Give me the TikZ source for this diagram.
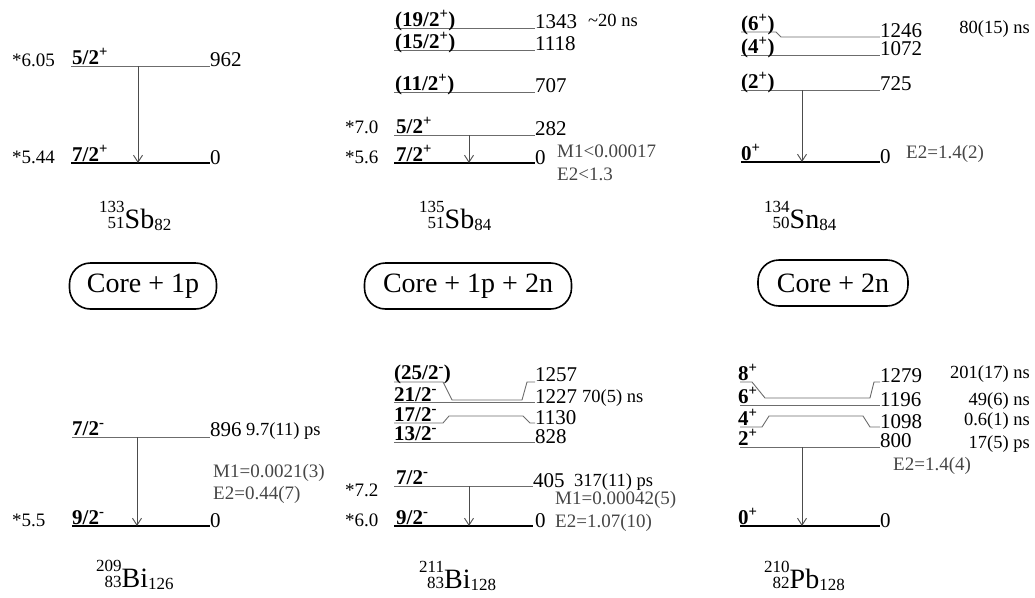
\documentclass[tikz,border=0pt]{standalone}
\usepackage{fontspec}
\setmainfont{Liberation Serif}
\usetikzlibrary{arrows.meta}
\newcommand{\nucl}[4]{{\fontsize{17}{14}\selectfont\begin{tabular}[b]{@{}r@{}}#1\\#2\end{tabular}}#3\raisebox{-2pt}{\fontsize{17}{17}\selectfont#4}}

\begin{document}
\begin{tikzpicture}[x=1pt,y=-1pt,
  lvl/.style={draw=gray!85!black,line width=0.9pt},
  gnd/.style={draw=black,line width=2.4pt},
  gam/.style={draw=gray!60!black,line width=0.9pt,-{Straight Barb[length=7pt,width=9pt]}},
  en/.style={anchor=base west,inner sep=0pt,font=\fontsize{21}{22}\selectfont},
  spin/.style={anchor=base west,inner sep=0pt,font=\fontsize{21}{22}\selectfont\bfseries},
  star/.style={anchor=base west,inner sep=0pt,font=\fontsize{19}{22}\selectfont},
  tau/.style={anchor=base west,inner sep=0pt,font=\fontsize{18.5}{20}\selectfont},
  mult/.style={anchor=base west,inner sep=0pt,text=gray!55!black,font=\fontsize{19}{22}\selectfont},
  nuc/.style={anchor=base west,inner sep=0pt,font=\fontsize{28}{30}\selectfont},
  core/.style={draw,line width=1.6pt,rounded corners=21pt,minimum height=46pt,font=\fontsize{28}{30}\selectfont}]
\useasboundingbox (0,0) rectangle (1035,597);

% 133Sb
\draw[lvl] (71,66) -- (210,66);
\draw[gnd] (71,163) -- (210,163);
\node[star] (s133a) at (12,66) {*6.05};
\node[spin] (j133a) at (72,64) {5/2\textsuperscript{+}};
\node[en] (e133a) at (210,66) {962};
\node[star] (s133b) at (12,163) {*5.44};
\node[spin] (j133b) at (72,161) {7/2\textsuperscript{+}};
\node[en] (e133b) at (210,164) {0};
\coordinate (a133a) at (138,66);
\coordinate (a133b) at (138,163);
\draw[gam] (a133a) -- (a133b);
\node[nuc] (n133) at (99,228) {\nucl{133}{51}{Sb}{82}};

% 135Sb
\draw[lvl] (394,28) -- (535,28);
\draw[lvl] (394,50) -- (535,50);
\draw[lvl] (394,92) -- (535,92);
\draw[lvl] (394,135) -- (535,135);
\draw[gnd] (394,163) -- (535,163);
\node[spin] (j135a) at (395,26) {(19/2\textsuperscript{+})};
\node[spin] (j135b) at (395,48) {(15/2\textsuperscript{+})};
\node[spin] (j135c) at (395,90) {(11/2\textsuperscript{+})};
\node[spin] (j135d) at (396,133) {5/2\textsuperscript{+}};
\node[spin] (j135e) at (396,161) {7/2\textsuperscript{+}};
\node[en] (e135a) at (535,28) {1343};
\node[en] (e135b) at (535,50) {1118};
\node[en] (e135c) at (535,92) {707};
\node[en] (e135d) at (535,135) {282};
\node[en] (e135e) at (535,164) {0};
\node[tau] (t135a) at (588,27) {\textasciitilde20 ns};
\node[star] (s135d) at (345,133) {*7.0};
\node[star] (s135e) at (345,163) {*5.6};
\coordinate (a135a) at (469,135);
\coordinate (a135b) at (469,163);
\draw[gam] (a135a) -- (a135b);
\node[mult] (m135a) at (557,157) {M1<0.00017};
\node[mult] (m135b) at (557,180) {E2<1.3};
\node[nuc] (n135) at (419,228) {\nucl{135}{51}{Sb}{84}};

% 134Sn
\draw[lvl] (741,32) -- (776,32) -- (781,37) -- (880,37);
\draw[lvl] (741,55) -- (880,55);
\draw[lvl] (741,90) -- (880,90);
\draw[gnd] (741,162) -- (880,162);
\node[spin] (j134a) at (741,30) {(6\textsuperscript{+})};
\node[spin] (j134b) at (741,53) {(4\textsuperscript{+})};
\node[spin] (j134c) at (741,88) {(2\textsuperscript{+})};
\node[spin] (j134d) at (741,160) {0\textsuperscript{+}};
\node[en] (e134a) at (880,37) {1246};
\node[en] (e134b) at (880,55) {1072};
\node[en] (e134c) at (880,90) {725};
\node[en] (e134d) at (880,163) {0};
\node[tau,anchor=base east] (t134a) at (1030,33) {80(15) ns};
\coordinate (a134a) at (802,90);
\coordinate (a134b) at (802,162);
\draw[gam] (a134a) -- (a134b);
\node[mult] (m134a) at (906,158) {E2=1.4(2)};
\node[nuc] (n134) at (764,228) {\nucl{134}{50}{Sn}{84}};

% models
\node[core,minimum width=147pt] (core1) at (143,286) {Core + 1p};
\node[core,minimum width=207pt] (core2) at (468,286) {Core + 1p + 2n};
\node[core,minimum width=150pt] (core3) at (833,283) {Core + 2n};

% 209Bi
\draw[lvl] (72,437) -- (210,437);
\draw[gnd] (72,526) -- (210,526);
\node[spin] (j209a) at (72,435) {7/2\textsuperscript{-}};
\node[spin] (j209b) at (72,524) {9/2\textsuperscript{-}};
\node[en] (e209a) at (210,436) {896};
\node[en] (e209b) at (210,527) {0};
\node[tau] (t209a) at (246,435) {9.7(11) ps};
\node[mult] (m209a) at (213,477) {M1=0.0021(3)};
\node[mult] (m209b) at (213,499) {E2=0.44(7)};
\node[star] (s209b) at (12,526) {*5.5};
\coordinate (a209a) at (137,437);
\coordinate (a209b) at (137,526);
\draw[gam] (a209a) -- (a209b);
\node[nuc] (n209) at (96,587) {\nucl{209}{83}{Bi}{126}};

% 211Bi
\draw[lvl] (394,382) -- (443,382) -- (452,400) -- (522,400) -- (527,382) -- (535,382);
\draw[lvl] (394,402) -- (535,402);
\draw[lvl] (394,423) -- (443,423) -- (449,416) -- (523,416) -- (530,423) -- (535,423);
\draw[lvl] (394,442) -- (535,442);
\draw[lvl] (394,486) -- (533,486);
\draw[gnd] (394,526) -- (533,526);
\node[spin] (j211a) at (394,379) {(25/2\textsuperscript{-})};
\node[spin] (j211b) at (394,401) {21/2\textsuperscript{-}};
\node[spin] (j211c) at (394,421) {17/2\textsuperscript{-}};
\node[spin] (j211d) at (394,440) {13/2\textsuperscript{-}};
\node[spin] (j211e) at (396,484) {7/2\textsuperscript{-}};
\node[spin] (j211f) at (396,524) {9/2\textsuperscript{-}};
\node[en] (e211a) at (535,381) {1257};
\node[en] (e211b) at (535,403) {1227};
\node[en] (e211c) at (535,424) {1130};
\node[en] (e211d) at (535,443) {828};
\node[en] (e211e) at (533,487) {405};
\node[en] (e211f) at (535,527) {0};
\node[tau] (t211b) at (582,402) {70(5) ns};
\node[tau] (t211e) at (574,486) {317(11) ps};
\node[star] (s211e) at (345,496) {*7.2};
\node[star] (s211f) at (345,526) {*6.0};
\coordinate (a211a) at (469,486);
\coordinate (a211b) at (469,526);
\draw[gam] (a211a) -- (a211b);
\node[mult] (m211a) at (555,504) {M1=0.00042(5)};
\node[mult] (m211b) at (555,527) {E2=1.07(10)};
\node[nuc] (n211) at (419,588) {\nucl{211}{83}{Bi}{128}};

% 210Pb
\draw[lvl] (740,382) -- (752,382) -- (765,398) -- (870,398) -- (874,382) -- (880,382);
\draw[lvl] (740,405) -- (880,405);
\draw[lvl] (740,427) -- (762,427) -- (769,416) -- (863,416) -- (870,427) -- (880,427);
\draw[lvl] (740,447) -- (880,447);
\draw[gnd] (740,526) -- (880,526);
\node[spin] (j210a) at (738,380) {8\textsuperscript{+}};
\node[spin] (j210b) at (738,403) {6\textsuperscript{+}};
\node[spin] (j210c) at (738,425) {4\textsuperscript{+}};
\node[spin] (j210d) at (738,445) {2\textsuperscript{+}};
\node[spin] (j210e) at (738,524) {0\textsuperscript{+}};
\node[en] (e210a) at (880,382) {1279};
\node[en] (e210b) at (880,406) {1196};
\node[en] (e210c) at (880,428) {1098};
\node[en] (e210d) at (880,447) {800};
\node[en] (e210e) at (880,527) {0};
\node[tau,anchor=base east] (t210a) at (1030,378) {201(17) ns};
\node[tau,anchor=base east] (t210b) at (1030,405) {49(6) ns};
\node[tau,anchor=base east] (t210c) at (1030,425) {0.6(1) ns};
\node[tau,anchor=base east] (t210d) at (1030,448) {17(5) ps};
\coordinate (a210a) at (802,447);
\coordinate (a210b) at (802,526);
\draw[gam] (a210a) -- (a210b);
\node[mult] (m210a) at (893,470) {E2=1.4(4)};
\node[nuc] (n210) at (764,588) {\nucl{210}{82}{Pb}{128}};
\end{tikzpicture}
\end{document}
